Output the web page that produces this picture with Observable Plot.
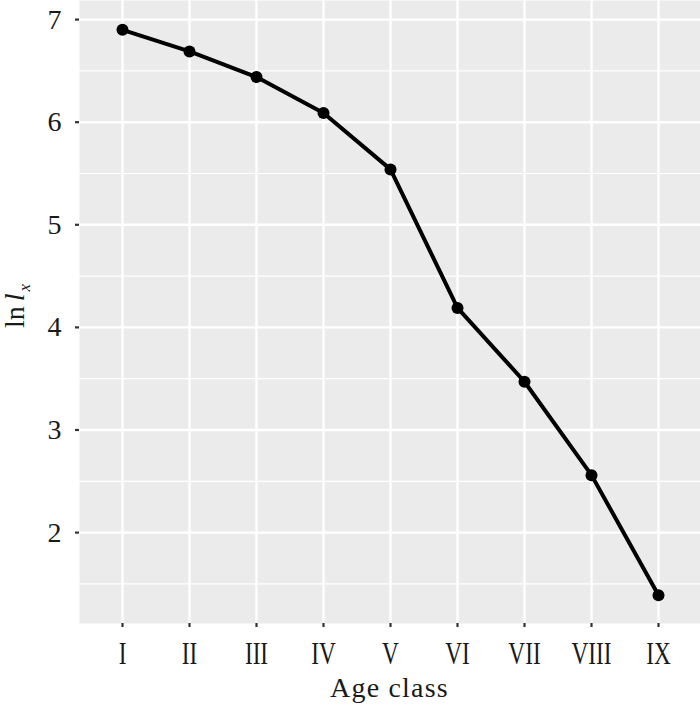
<!DOCTYPE html>
<html><head><meta charset="utf-8">
<script src="https://cdn.jsdelivr.net/npm/d3@7"></script>
<script src="https://cdn.jsdelivr.net/npm/@observablehq/plot@0.6"></script>
<style>
body{margin:0;background:#fff;}
#chart svg{display:block;}
</style></head><body><div id="chart"></div>
<script>
const ageClasses = ["I","II","III","IV","V","VI","VII","VIII","IX"];
const lnLx = [6.90, 6.69, 6.44, 6.09, 5.54, 4.19, 3.47, 2.56, 1.39];
const yMajorTicks = [2, 3, 4, 5, 6, 7];
const yMinorTicks = [1.5, 2.5, 3.5, 4.5, 5.5, 6.5];
const xTitle = "Age class";

const data = ageClasses.map((c, i) => ({age: c, v: lnLx[i]}));

const plot = Plot.plot({
  width: 700, height: 713,
  marginLeft: 79, marginRight: 0, marginTop: 0, marginBottom: 90,
  style: {fontFamily: "'Liberation Serif', 'Times New Roman', serif", fontSize: "28px", color: "#1a1a1a", background: "#fff", overflow: "visible"},
  x: {type: "point", domain: ageClasses, padding: 0.6, label: null},
  y: {domain: [1.114, 7.186], label: null},
  marks: [
    Plot.frame({fill: "#EBEBEB", stroke: "none"}),
    Plot.ruleY(yMinorTicks, {stroke: "#fff", strokeWidth: 1.2}),
    Plot.ruleY(yMajorTicks, {stroke: "#fff", strokeWidth: 2.4}),
    Plot.ruleX(ageClasses, {stroke: "#fff", strokeWidth: 2.4}),
    Plot.axisX({ticks: ageClasses, tickSize: 4, tickPadding: 14, stroke: "#333", strokeWidth: 2.2, fontSize: 31, fill: "#1a1a1a", label: null}),
    Plot.axisY({ticks: yMajorTicks, tickSize: 4, tickPadding: 14, tickFormat: d3.format("d"), stroke: "#333", strokeWidth: 2.2, fontSize: 28, fill: "#1a1a1a", label: null}),
    Plot.line(data, {x: "age", y: "v", stroke: "#000", strokeWidth: 4}),
    Plot.dot(data, {x: "age", y: "v", r: 6, fill: "#000", stroke: "none"})
  ]
});

const svg = d3.select(plot);

svg.append("text")
  .attr("x", 389.5).attr("y", 697)
  .attr("text-anchor", "middle")
  .attr("font-size", 28).attr("letter-spacing", "1.2px")
  .attr("fill", "#1a1a1a")
  .text(xTitle);

const yl = svg.append("text")
  .attr("transform", "translate(24,306) rotate(-90)")
  .attr("text-anchor", "middle")
  .attr("font-size", 28)
  .attr("fill", "#1a1a1a");
yl.append("tspan").text("ln");
yl.append("tspan").attr("dx", 5).attr("font-style", "italic").text("l");
yl.append("tspan").attr("dx", 2).attr("font-style", "italic").attr("font-size", 17).attr("dy", 6).text("x");

document.getElementById("chart").appendChild(plot);

// condense the roman-numeral tick labels horizontally, as in the reference
svg.selectAll('g[aria-label="x-axis tick label"] text').each(function() {
  const len = this.getComputedTextLength();
  if (len > 0) {
    this.setAttribute("textLength", (len * 0.75).toFixed(2));
    this.setAttribute("lengthAdjust", "spacingAndGlyphs");
  }
});
</script>
</body></html>
